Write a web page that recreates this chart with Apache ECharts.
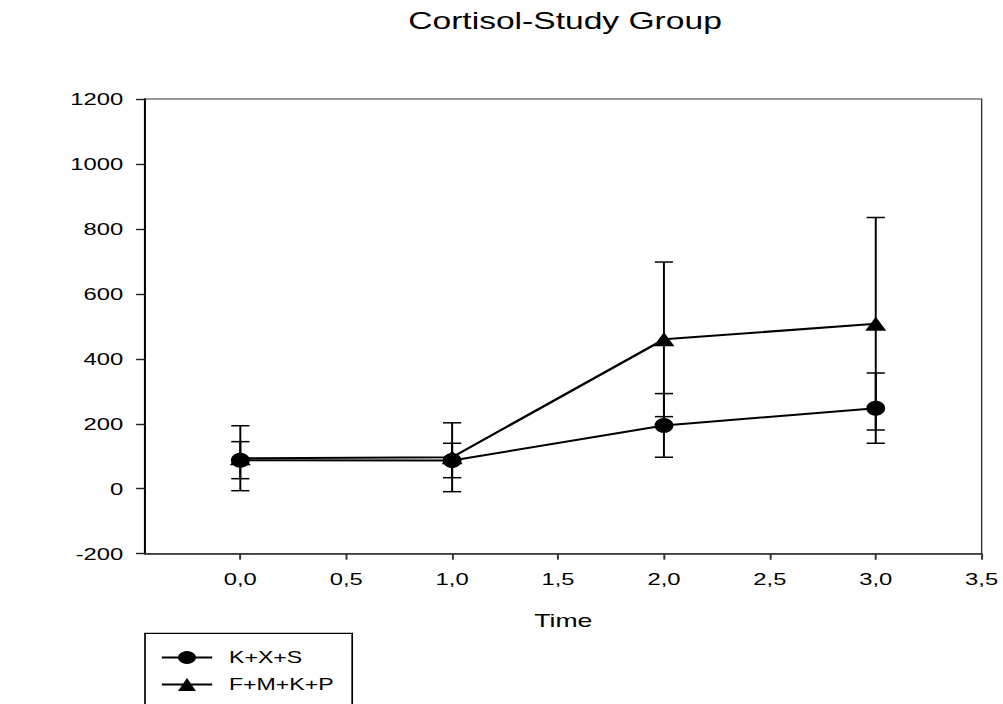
<!DOCTYPE html>
<html>
<head>
<meta charset="utf-8">
<script src="https://cdn.jsdelivr.net/npm/echarts@6/dist/echarts.min.js"></script>
<style>
html,body{margin:0;padding:0;background:#fff;overflow:hidden;}
#wrap{width:1003px;height:704px;overflow:hidden;position:relative;}
#chart{width:716.43px;height:704px;transform:scaleX(1.4);transform-origin:0 0;}
</style>
</head>
<body>
<div id="wrap"><div id="chart"></div></div>
<script>
// ---- data ----
const timePoints = [0, 1, 2, 3];
const kxsMean = [88, 87, 195, 248];
const kxsErr = [57, 53, 98, 108];
const fmkpMean = [94, 97, 460, 508];
const fmkpErr = [100, 106, 238, 327];
const xTickValues = [0, 0.5, 1, 1.5, 2, 2.5, 3, 3.5];
const seriesNames = ['K+X+S', 'F+M+K+P'];
const titleText = 'Cortisol-Study Group';
const xName = 'Time';

const S = 1.4; // horizontal stretch of the picture
const FONT = "'Liberation Sans', Arial, sans-serif";

function pts(mean) { return timePoints.map((t, i) => [t, mean[i]]); }
function bars(mean, err) { return timePoints.map((t, i) => [t, mean[i] - err[i], mean[i] + err[i]]); }

function renderErr(params, api) {
  const x = api.value(0), lo = api.value(1), hi = api.value(2);
  const pHi = api.coord([x, hi]);
  const pLo = api.coord([x, lo]);
  const hw = 6.5;
  return {
    type: 'group',
    children: [
      { type: 'line', shape: { x1: pHi[0], y1: pHi[1], x2: pLo[0], y2: pLo[1] }, style: { stroke: '#000', lineWidth: 1.4 } },
      { type: 'line', shape: { x1: pHi[0] - hw, y1: pHi[1], x2: pHi[0] + hw, y2: pHi[1] }, style: { stroke: '#000', lineWidth: 1.5 } },
      { type: 'line', shape: { x1: pLo[0] - hw, y1: pLo[1], x2: pLo[0] + hw, y2: pLo[1] }, style: { stroke: '#000', lineWidth: 1.5 } }
    ]
  };
}

const legendCommon = {
  orient: 'vertical',
  left: 145 / S + 11,
  padding: 0,
  itemWidth: 36,
  itemHeight: 16,
  textStyle: { fontSize: 16.5, color: '#000', fontFamily: FONT, padding: [0, 0, 0, 7] }
};

const chart = echarts.init(document.getElementById('chart'), null, { renderer: 'svg' });
chart.setOption({
  animation: false,
  backgroundColor: '#fff',
  title: {
    text: titleText,
    left: 403.6,
    top: 9,
    padding: 0,
    textAlign: 'center',
    textStyle: { fontSize: 24, fontWeight: 'normal', color: '#000', fontFamily: FONT }
  },
  grid: {
    left: 145 / S, right: 20 / S, top: 99, bottom: 150.3,
    show: true, borderColor: '#333', borderWidth: 1, backgroundColor: 'transparent'
  },
  graphic: [{
    type: 'rect',
    shape: { x: 145 / S, y: 633.3, width: 148, height: 120 },
    style: { fill: 'none', stroke: '#000', lineWidth: 1.2 },
    silent: true
  }],
  legend: [
    Object.assign({}, legendCommon, { top: 649, data: [seriesNames[0]] }),
    Object.assign({}, legendCommon, { top: 676, data: [seriesNames[1]] })
  ],
  xAxis: {
    type: 'value',
    min: -0.45,
    max: 3.5,
    name: xName,
    nameLocation: 'middle',
    nameGap: 57,
    nameTextStyle: { fontSize: 19, color: '#000', fontFamily: FONT },
    axisLine: { show: true, onZero: false, lineStyle: { color: '#333', width: 1.5 } },
    axisTick: { show: true, length: 6, customValues: xTickValues, lineStyle: { color: '#333', width: 1.4 } },
    axisLabel: {
      customValues: xTickValues,
      margin: 17,
      fontSize: 17, color: '#000', fontFamily: FONT,
      formatter: v => v.toFixed(1).replace('.', ',')
    },
    splitLine: { show: false }
  },
  yAxis: {
    type: 'value',
    min: -200,
    max: 1200,
    interval: 200,
    axisLine: { show: true, onZero: false, lineStyle: { color: '#000', width: 1.4 } },
    axisTick: { show: true, length: 6.4, lineStyle: { color: '#222', width: 1.4 } },
    axisLabel: { margin: 15.5, fontSize: 17, color: '#000', fontFamily: FONT, formatter: v => String(v) },
    splitLine: { show: false }
  },
  series: [
    {
      type: 'custom', name: 'err1', renderItem: renderErr,
      data: bars(kxsMean, kxsErr), encode: { x: 0, y: [1, 2] }, z: 1, silent: true
    },
    {
      type: 'custom', name: 'err2', renderItem: renderErr,
      data: bars(fmkpMean, fmkpErr), encode: { x: 0, y: [1, 2] }, z: 1, silent: true
    },
    {
      type: 'line', name: seriesNames[0], data: pts(kxsMean),
      symbol: 'circle', symbolSize: [13.5, 15],
      lineStyle: { color: '#000', width: 2 },
      itemStyle: { color: '#000', borderWidth: 0 },
      z: 3
    },
    {
      type: 'line', name: seriesNames[1], data: pts(fmkpMean),
      symbol: 'triangle', symbolSize: [15, 14],
      lineStyle: { color: '#000', width: 2 },
      itemStyle: { color: '#000', borderWidth: 0 },
      z: 3
    }
  ]
});
</script>
</body>
</html>
